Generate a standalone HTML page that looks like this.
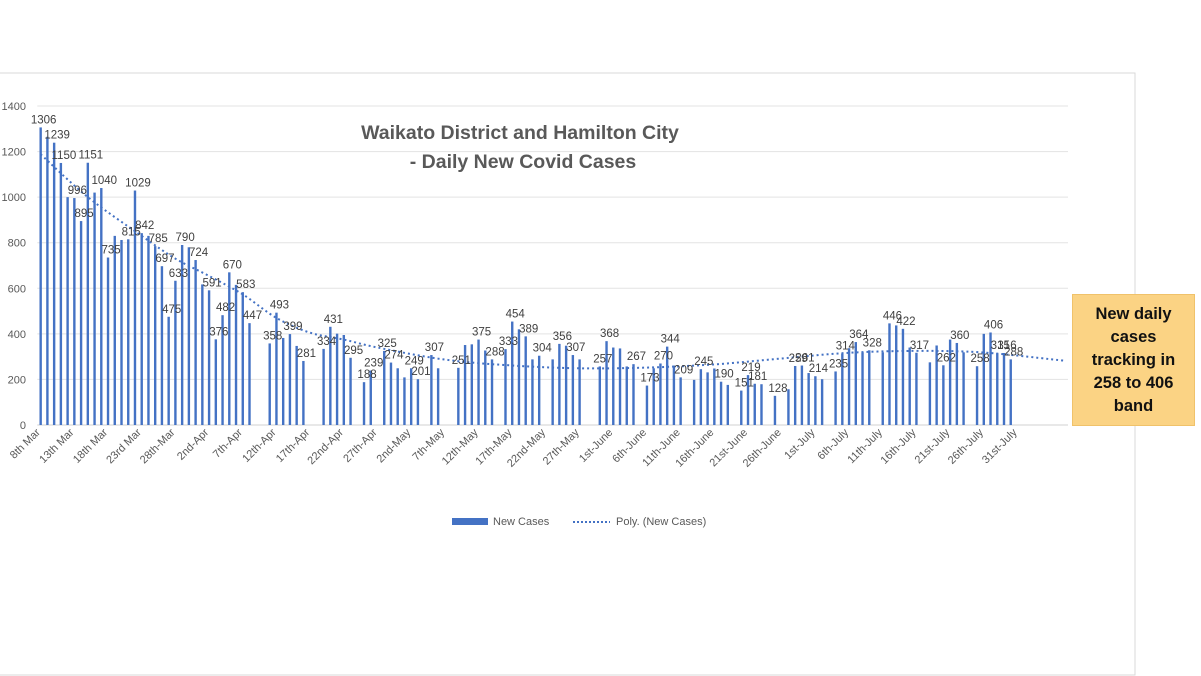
<!DOCTYPE html>
<html><head><meta charset="utf-8"><style>
body{margin:0;background:#fff;width:1201px;height:676px;overflow:hidden;font-family:"Liberation Sans",sans-serif}
#callout{position:absolute;left:1072px;top:294px;width:123px;height:132px;background:#fbd384;border:1px solid #f0c26a;box-sizing:border-box;font-weight:bold;font-size:16.5px;line-height:23px;text-align:center;padding-top:8px;color:#111}
</style></head><body>
<svg id="chart" width="1201" height="676" style="position:absolute;left:0;top:0" font-family="Liberation Sans, sans-serif">
<rect x="-2" y="73" width="1137" height="602" fill="none" stroke="#d9d9d9"/>
<g id="grid"></g><g id="bars"></g><g id="trend"></g><g id="labels"></g><g id="xlabels"></g><g id="ylabels"></g>
<text x="520" y="139" text-anchor="middle" font-size="19.5" font-weight="bold" fill="#595959">Waikato District and Hamilton City</text>
<text x="523" y="168" text-anchor="middle" font-size="19.5" font-weight="bold" fill="#595959">- Daily New Covid Cases</text>
<g>
<rect x="452" y="518" width="36" height="7" fill="#4472c4"/>
<text x="493" y="525" font-size="11" fill="#595959">New Cases</text>
<line x1="573" y1="522" x2="610" y2="522" stroke="#4472c4" stroke-width="2" stroke-dasharray="2,2"/>
<text x="616" y="525" font-size="11" fill="#595959">Poly. (New Cases)</text>
</g>
</svg>
<div id="callout">New daily<br>cases<br>tracking in<br>258 to 406<br>band</div>
<script>
const values=[1306,1265,1239,1150,1000,996,895,1151,1020,1040,735,830,812,815,1029,842,830,785,697,475,633,790,780,724,617,591,376,482,670,615,583,447,null,null,358,493,382,399,347,281,null,null,334,431,401,395,295,null,188,239,null,325,274,249,209,249,201,null,307,249,null,null,251,351,354,375,327,288,null,333,454,420,389,288,304,null,288,356,348,307,288,null,null,257,368,340,336,257,267,null,173,249,270,344,261,209,null,198,245,231,248,190,176,null,151,219,181,179,null,128,null,157,259,261,228,214,201,null,235,314,337,364,319,328,null,319,446,437,422,340,317,null,275,349,262,375,360,319,null,258,400,406,315,316,288];
const labelIdx=[0,2,3,5,6,7,9,10,13,14,15,17,18,19,20,21,23,25,26,27,28,30,31,34,35,37,39,42,43,46,48,49,51,52,55,56,58,62,65,67,69,70,72,74,77,79,83,84,88,90,92,93,95,98,101,104,105,106,109,112,113,115,118,119,121,123,126,128,130,134,136,139,141,142,143,144];
const tickLabels=["8th Mar","13th Mar","18th Mar","23rd Mar","28th-Mar","2nd-Apr","7th-Apr","12th-Apr","17th-Apr","22nd-Apr","27th-Apr","2nd-May","7th-May","12th-May","17th-May","22nd-May","27th-May","1st-June","6th-June","11th-June","16th-June","21st-June","26th-June","1st-July","6th-July","11th-July","16th-July","21st-July","26th-July","31st-July"];
const yTicks=[0,200,400,600,800,1000,1200,1400];
const trendIdx=[0,7,15,20,25,30,35,40,45,50,60,70,80,90,100,110,120,130,140,152];
const trendVals=[1188,1000,830,730,654,573,470,405,375,340,287,261,249,252,266,292,317,325,318,282];
const NS="http://www.w3.org/2000/svg";
const plotL=37.3,plotR=1068,slots=153,y0=425,yTop=106,yMax=1400;
const bw=(plotR-plotL)/slots;
const xs=i=>plotL+(i+0.5)*bw;
const ys=v=>y0-(v/yMax)*(y0-yTop);
function mk(t,a,p){const e=document.createElementNS(NS,t);for(const k in a)e.setAttribute(k,a[k]);document.getElementById(p).appendChild(e);return e;}
yTicks.forEach(v=>{
 const l=mk('line',{x1:plotL,x2:plotR,y1:ys(v),y2:ys(v),stroke:v===0?'#d0d0d0':'#e3e3e3'},'grid');
 
 
 const t=mk('text',{x:26,y:ys(v)+4,'text-anchor':'end','font-size':11,fill:'#595959'},'ylabels');
 t.textContent=v;
 
 
});
values.forEach((v,i)=>{
 if(v==null)return;
 const r=mk('rect',{x:xs(i)-1.2,y:ys(v),width:2.4,height:y0-ys(v),fill:'#4472c4'},'bars');
 
 
});
labelIdx.forEach(i=>{
 const v=values[i];if(v==null)return;
 const t=mk('text',{x:xs(i)+3,y:ys(v)-4,'text-anchor':'middle','font-size':11.5,fill:'#404040'},'labels');
 t.textContent=v;
 
 
});
tickLabels.forEach((s,k)=>{
 const x=xs(k*5),y=433;
 const t=mk('text',{x:x,y:y,'text-anchor':'end','font-size':11,fill:'#595959',transform:'rotate(-45 '+x+' '+y+')'},'xlabels');
 t.textContent=s;
 
 
});
// smooth trendline through sampled points (Catmull-Rom)
const P=trendIdx.map((ix,k)=>[xs(ix),ys(trendVals[k])]);
let d='M'+P[0][0].toFixed(1)+','+P[0][1].toFixed(1);
for(let k=0;k<P.length-1;k++){
 const p0=P[Math.max(0,k-1)],p1=P[k],p2=P[k+1],p3=P[Math.min(P.length-1,k+2)];
 const c1=[p1[0]+(p2[0]-p0[0])/6,p1[1]+(p2[1]-p0[1])/6],c2=[p2[0]-(p3[0]-p1[0])/6,p2[1]-(p3[1]-p1[1])/6];
 d+='C'+c1.map(n=>n.toFixed(1)).join(',')+' '+c2.map(n=>n.toFixed(1)).join(',')+' '+p2.map(n=>n.toFixed(1)).join(',');
}
const tl=mk('path',{d:d,fill:'none',stroke:'#4472c4','stroke-width':2,'stroke-dasharray':'2,3'},'trend');


</script>
</body></html>
